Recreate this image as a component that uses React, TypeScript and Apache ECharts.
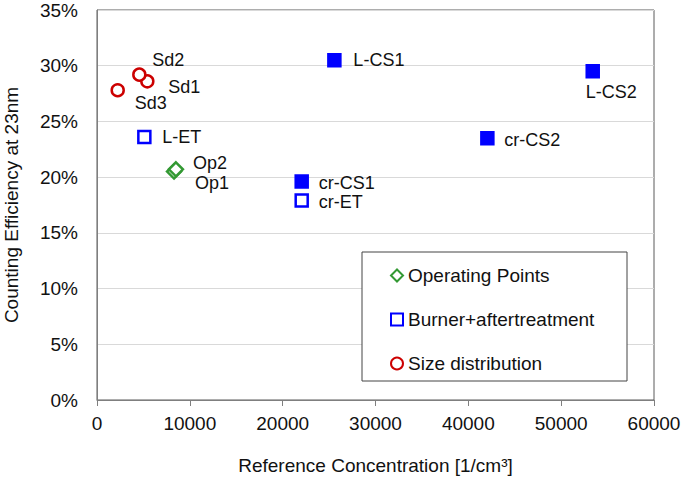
import React, { useEffect, useRef } from "react";
import * as echarts from "echarts";

// ---- data ----
const xTicks = [0, 10000, 20000, 30000, 40000, 50000, 60000];
const yTicksPct = [0, 5, 10, 15, 20, 25, 30, 35];

const opNames = ["Op1", "Op2"];
const opX = [8300, 8500];
const opY = [20.5, 20.7];

const burnerNames = ["L-ET", "cr-ET", "L-CS1", "L-CS2", "cr-CS1", "cr-CS2"];
const burnerX = [5100, 22050, 25570, 53400, 22050, 42050];
const burnerY = [23.6, 17.9, 30.5, 29.5, 19.6, 23.5];
const burnerFilled = [false, false, true, true, true, true];

const sizeNames = ["Sd1", "Sd2", "Sd3"];
const sizeX = [5420, 4560, 2230];
const sizeY = [28.6, 29.2, 27.8];

const seriesNames = ["Operating Points", "Burner+aftertreatment", "Size distribution"];

// ---- styling (label offsets relative to marker centre) ----
const labelOffsets: Record<string, [number, number]> = {
  Op1: [21, 11],
  Op2: [17, -6],
  "L-ET": [18, 0],
  "cr-ET": [17, 1],
  "L-CS1": [19, 0],
  "L-CS2": [-7, 21],
  "cr-CS1": [17, 1],
  "cr-CS2": [17, 2],
  Sd1: [21, 6],
  Sd2: [13, -15],
  Sd3: [17, 13],
};

const FONT = "'Liberation Sans', Arial, sans-serif";
const TEXT = "#111111";
const GREEN = "#339933";
const BLUE = "#0000ff";
const RED = "#cc0000";

function pointLabel(name: string) {
  const off = labelOffsets[name] || [15, 0];
  return {
    show: true,
    position: "inside",
    align: "left",
    verticalAlign: "middle",
    offset: off,
    formatter: name,
    fontSize: 18,
    fontFamily: FONT,
    color: TEXT,
  };
}

export default function App() {
  const ref = useRef<HTMLDivElement>(null);
  useEffect(() => {
    if (!ref.current) return;
    const chart = echarts.init(ref.current, undefined, { renderer: "svg" });
    const opData = opNames.map((n, i) => ({ name: n, value: [opX[i], opY[i]], label: pointLabel(n) }));
    const burnerData = burnerNames.map((n, i) => ({
      name: n,
      value: [burnerX[i], burnerY[i]],
      label: pointLabel(n),
      itemStyle: burnerFilled[i]
        ? { color: BLUE, borderColor: BLUE, opacity: 1 }
        : { color: "#ffffff", borderColor: BLUE, opacity: 1 },
    }));
    const sizeData = sizeNames.map((n, i) => ({ name: n, value: [sizeX[i], sizeY[i]], label: pointLabel(n) }));

    chart.setOption({
      animation: false,
      backgroundColor: "#ffffff",
      textStyle: { fontFamily: FONT },
      grid: {
        left: 97,
        top: 10,
        right: 31,
        bottom: 84,
        containLabel: false,
        outerBoundsMode: "none",
        show: true,
        borderColor: "#5a5a5a",
        borderWidth: 1,
        backgroundColor: "transparent",
      },
      graphic: [
        {
          type: "rect",
          shape: { x: 362, y: 252, width: 265, height: 129 },
          style: { fill: "#ffffff", stroke: "#444444", lineWidth: 1 },
          z: 5,
        },
      ],
      legend: {
        orient: "vertical",
        left: 385,
        top: 261,
        itemWidth: 12,
        itemHeight: 12,
        itemGap: 25,
        z: 10,
        data: seriesNames,
        textStyle: { fontSize: 19, fontFamily: FONT, color: TEXT },
      },
      xAxis: {
        type: "value",
        min: xTicks[0],
        max: xTicks[xTicks.length - 1],
        interval: 10000,
        name: "Reference Concentration [1/cm³]",
        nameLocation: "middle",
        nameGap: 56,
        nameTextStyle: { fontSize: 19, fontFamily: FONT, color: TEXT },
        axisLine: { show: true, lineStyle: { color: "#7f7f7f", width: 1 } },
        axisTick: { show: true, length: 6, lineStyle: { color: "#7f7f7f" } },
        axisLabel: { fontSize: 19, fontFamily: FONT, color: TEXT, margin: 14, formatter: (v: number) => String(v) },
        splitLine: { show: false },
      },
      yAxis: {
        type: "value",
        min: yTicksPct[0],
        max: yTicksPct[yTicksPct.length - 1],
        interval: 5,
        name: "Counting Efficiency at 23nm",
        nameLocation: "middle",
        nameGap: 76,
        nameTextStyle: { fontSize: 19, fontFamily: FONT, color: TEXT },
        axisLine: { show: true, lineStyle: { color: "#7f7f7f", width: 1 } },
        axisTick: { show: false },
        axisLabel: { fontSize: 19, fontFamily: FONT, color: TEXT, margin: 19, formatter: (v: number) => `${v}%` },
        splitLine: { show: true, lineStyle: { color: "#d9d9d9", width: 1 } },
      },
      series: [
        {
          name: seriesNames[0],
          type: "scatter",
          symbol: "diamond",
          symbolSize: 14,
          itemStyle: { color: "#ffffff", borderColor: GREEN, borderWidth: 2.5, opacity: 1 },
          data: opData,
        },
        {
          name: seriesNames[1],
          type: "scatter",
          symbol: "rect",
          symbolSize: 12,
          itemStyle: { color: "#ffffff", borderColor: BLUE, borderWidth: 2.5, opacity: 1 },
          data: burnerData,
        },
        {
          name: seriesNames[2],
          type: "scatter",
          symbol: "circle",
          symbolSize: 12,
          itemStyle: { color: "#ffffff", borderColor: RED, borderWidth: 2.5, opacity: 1 },
          data: sizeData,
        },
      ],
    });
    return () => chart.dispose();
  }, []);
  return <div ref={ref} style={{ position: "fixed", left: 0, top: 0, width: 685, height: 484 }} />;
}
